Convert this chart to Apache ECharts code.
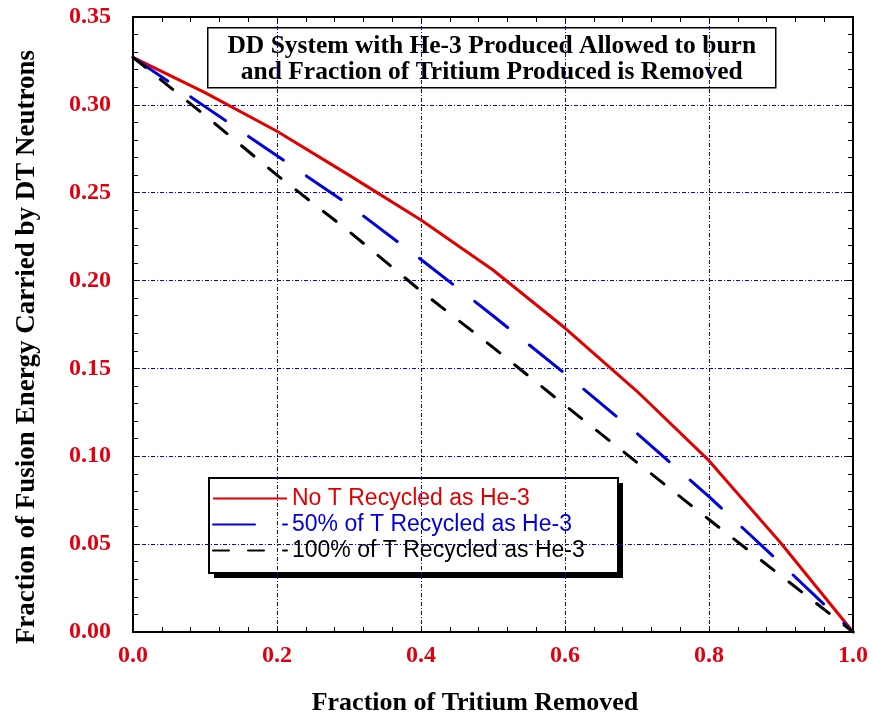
<!DOCTYPE html>
<html>
<head>
<meta charset="utf-8">
<script src="https://cdn.jsdelivr.net/npm/echarts@6/dist/echarts.min.js"></script>
<style>
  html, body { margin: 0; padding: 0; background: #fff; }
  #chart { width: 873px; height: 719px; }
</style>
</head>
<body>
<div id="chart"></div>
<script>
// fraction of tritium removed
var xValues = [0, 0.1, 0.2, 0.3, 0.4, 0.5, 0.6, 0.7, 0.8, 0.9, 1.0];
var noRecycle = [0.327, 0.307, 0.285, 0.260, 0.2345, 0.206, 0.173, 0.137, 0.0975, 0.0505, 0];
var halfRecycle = [0.327, 0.299, 0.271, 0.243, 0.212, 0.180, 0.147, 0.113, 0.077, 0.039, 0];
var fullRecycle = [0.327, 0.294, 0.260, 0.228, 0.194, 0.162, 0.129, 0.0965, 0.064, 0.032, 0];
var seriesNames = ['No T Recycled as He-3', '50% of T Recycled as He-3', '100% of T Recycled as He-3'];
var titleLines = ['DD System with He-3 Produced Allowed to burn', 'and Fraction of Tritium Produced is Removed'];

var serif = '"Liberation Serif", "Times New Roman", serif';
var sans = '"Liberation Sans", Arial, sans-serif';
var labelRed = '#e0000f';

function pairs(ys) {
	var out = [];
	for (var i = 0; i < xValues.length; i++) out.push([xValues[i], ys[i]]);
	return out;
}

var tickStyle = { show: true, inside: true, length: 6, lineStyle: { color: '#000', width: 1 } };
var minorTickStyle = { show: true, length: 5, lineStyle: { color: '#000', width: 1 } };
var gridStyle = { show: true, lineStyle: { color: '#0000ff', width: 1, type: [4, 2, 1, 2] } };

var option = {
	animation: false,
	backgroundColor: '#fff',
	grid: { left: 133, right: 20, top: 17, bottom: 87, outerBoundsMode: 'none' },
	xAxis: [{
		type: 'value', min: 0, max: 1, interval: 0.2,
		name: 'Fraction of Tritium Removed',
		nameLocation: 'middle', nameGap: 58,
		nameTextStyle: { fontFamily: serif, fontWeight: 'bold', fontSize: 26, color: '#000', padding: [0, 36, 0, 0] },
		axisLine: { show: true, onZero: false, lineStyle: { color: '#000', width: 2 } },
		axisTick: tickStyle,
		minorTick: minorTickStyle,
		minorSplitLine: { show: false },
		splitLine: gridStyle,
		axisLabel: { margin: 12, fontFamily: serif, fontWeight: 'bold', fontSize: 24, color: labelRed,
			formatter: function (v) { return v.toFixed(1); } }
	}, {
		type: 'value', min: 0, max: 1, interval: 0.2, position: 'top',
		axisLine: { show: true, onZero: false, lineStyle: { color: '#000', width: 2 } },
		axisTick: tickStyle,
		minorTick: minorTickStyle,
		splitLine: { show: false },
		axisLabel: { show: false }
	}],
	yAxis: [{
		type: 'value', min: 0, max: 0.35, interval: 0.05,
		name: 'Fraction of Fusion Energy Carried by DT Neutrons',
		nameLocation: 'middle', nameGap: 92, nameRotate: 90,
		nameTextStyle: { fontFamily: serif, fontWeight: 'bold', fontSize: 27, color: '#000', padding: [0, 45, 0, 0] },
		axisLine: { show: true, onZero: false, lineStyle: { color: '#000', width: 2 } },
		axisTick: tickStyle,
		minorTick: { show: true, splitNumber: 5, length: 5, lineStyle: { color: '#000', width: 1 } },
		splitLine: gridStyle,
		axisLabel: { margin: 22, fontFamily: serif, fontWeight: 'bold', fontSize: 24, color: labelRed,
			formatter: function (v) { return v.toFixed(2); } }
	}, {
		type: 'value', min: 0, max: 0.35, interval: 0.05, position: 'right',
		axisLine: { show: true, onZero: false, lineStyle: { color: '#000', width: 2 } },
		axisTick: tickStyle,
		minorTick: { show: true, splitNumber: 5, length: 5, lineStyle: { color: '#000', width: 1 } },
		splitLine: { show: false },
		axisLabel: { show: false }
	}],
	legend: {
		left: 208, top: 477, z: 6,
		orient: 'vertical',
		padding: [10, 22, 12, 4],
		itemWidth: 74, itemHeight: 14, itemGap: 3,
		itemStyle: { opacity: 0 },
		textStyle: { fontFamily: sans, fontSize: 23, lineHeight: 22 },
		data: [
			{ name: seriesNames[0], textStyle: { color: '#e00000' } },
			{ name: seriesNames[1], textStyle: { color: '#0000dd' } },
			{ name: seriesNames[2], textStyle: { color: '#000' } }
		]
	},
	graphic: [{
		// title box
		type: 'group', left: 207, top: 27, z: 100,
		children: [{
			type: 'rect',
			shape: { x: 0, y: 0, width: 568, height: 60 },
			style: { fill: '#fff', stroke: '#000', lineWidth: 1.5 }
		}, {
			type: 'text',
			x: 284, y: 32,
			style: {
				text: titleLines.join('\n'),
				font: 'bold 25.5px ' + serif,
				lineHeight: 26,
				align: 'center', verticalAlign: 'middle',
				fill: '#000'
			}
		}]
	}, {
		// legend frame with hard drop shadow
		type: 'group', left: 208, top: 477, z: 5,
		children: [{
			type: 'rect',
			shape: { x: 5, y: 5, width: 409, height: 95 },
			style: { fill: '#000' }
		}, {
			type: 'rect',
			shape: { x: 0, y: 0, width: 409, height: 95 },
			style: { fill: '#fff', stroke: '#000', lineWidth: 2 }
		}]
	}],
	series: [{
		name: seriesNames[0], type: 'line', symbol: 'none',
		data: pairs(noRecycle),
		lineStyle: { color: '#e00000', width: 3 },
		itemStyle: { color: '#e00000' }
	}, {
		name: seriesNames[1], type: 'line', symbol: 'none',
		data: pairs(halfRecycle),
		lineStyle: { color: '#0000dd', width: 3, type: [42, 28], cap: 'round' },
		itemStyle: { color: '#0000dd' }
	}, {
		name: seriesNames[2], type: 'line', symbol: 'none',
		data: pairs(fullRecycle),
		lineStyle: { color: '#000', width: 3, type: [16, 19], cap: 'round' },
		itemStyle: { color: '#000' }
	}]
};

var chart = echarts.init(document.getElementById('chart'));
chart.setOption(option);
</script>
</body>
</html>
